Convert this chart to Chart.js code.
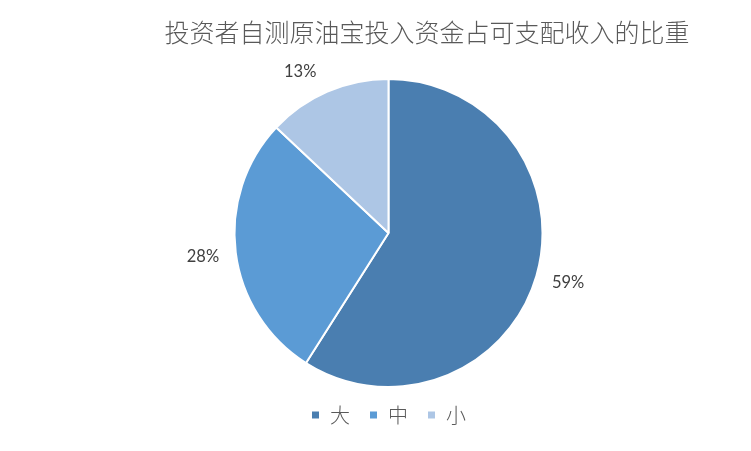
<!DOCTYPE html>
<html>
<head>
<meta charset="utf-8">
<script src="https://cdn.jsdelivr.net/npm/chart.js@4/dist/chart.umd.min.js"></script>
<style>
  html, body { margin: 0; padding: 0; background: #fff; }
  #wrap { width: 751px; height: 451px; position: relative; }
</style>
</head>
<body>
<div id="wrap"><canvas id="pieChart"></canvas></div>
<script>
// data
const categories = ["大", "中", "小"];
const shares = [59, 28, 13];
const sliceColors = ["#4a7eb0", "#5b9bd5", "#adc6e5"];
const titleText = "投资者自测原油宝投入资金占可支配收入的比重";

// excel nudges some labels off the slice middle
const labelNudge = [[0, -2], [0, 0], [-14, 10]];

const titleAndLabels = {
  id: "titleAndLabels",
  afterDraw(chart) {
    const ctx = chart.ctx;
    ctx.save();
    ctx.fillStyle = "#595959";
    ctx.font = "300 25px 'Noto Sans CJK SC'";
    ctx.textAlign = "center";
    ctx.textBaseline = "middle";
    ctx.fillText(titleText, 427, 32);

    ctx.fillStyle = "#404040";
    ctx.font = "16.5px Lato";
    const arcs = chart.getDatasetMeta(0).data;
    arcs.forEach((arc, i) => {
      const mid = (arc.startAngle + arc.endAngle) / 2;
      const d = arc.outerRadius + 33;
      const x = arc.x + Math.cos(mid) * d + labelNudge[i][0];
      const y = arc.y + Math.sin(mid) * d + labelNudge[i][1];
      ctx.fillText(shares[i] + "%", x, y);
    });
    ctx.restore();
  }
};

new Chart(document.getElementById("pieChart"), {
  type: "pie",
  data: {
    labels: categories,
    datasets: [{
      data: shares,
      backgroundColor: sliceColors,
      borderColor: "#ffffff",
      borderWidth: 2,
      radius: 154
    }]
  },
  options: {
    responsive: true,
    maintainAspectRatio: false,
    animation: false,
    layout: { padding: { top: 80, left: 26, right: 0, bottom: 16 } },
    plugins: {
      title: { display: false },
      tooltip: { enabled: false },
      legend: {
        position: "bottom",
        labels: {
          boxWidth: 9,
          boxHeight: 9,
          padding: 19,
          color: "#595959",
          font: { family: "'Noto Sans CJK SC'", size: 20, weight: 300 }
        }
      }
    }
  },
  plugins: [titleAndLabels]
});
</script>
</body>
</html>
